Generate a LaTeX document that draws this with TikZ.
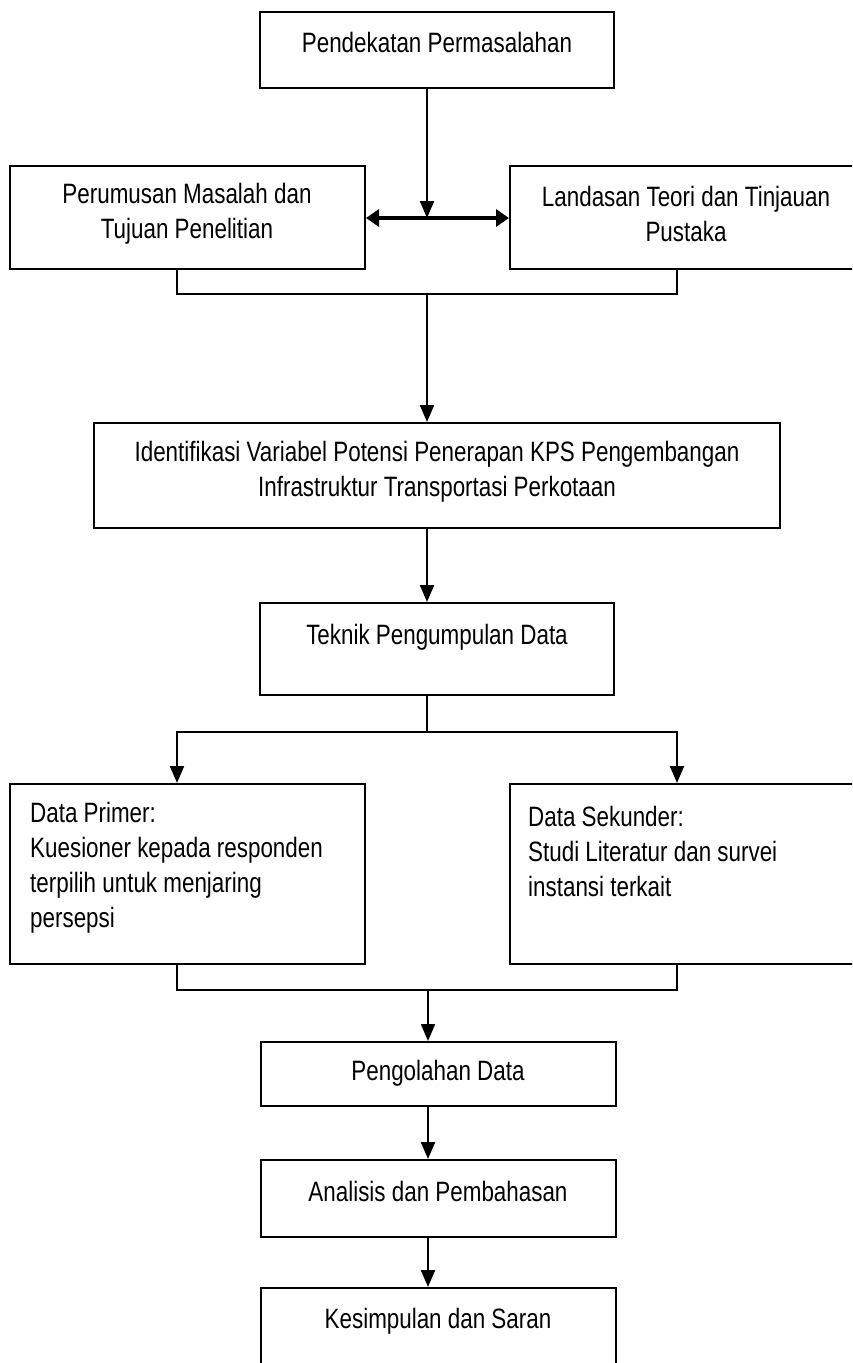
\documentclass[tikz,border=0pt]{standalone}
\usepackage{fontspec}
\setmainfont[FakeStretch=0.8]{Liberation Sans}
\usetikzlibrary{arrows.meta}

\tikzset{
  box/.style={draw, line width=2pt, inner sep=0pt},
  txt/.style={inner sep=0pt, font=\fontsize{28pt}{35pt}\selectfont},
  link/.style={line width=2pt},
  arr/.style={line width=2.2pt, -{Triangle[length=17pt,width=14pt]}}
}

\begin{document}
\begin{tikzpicture}[x=1pt,y=-1pt]
        \useasboundingbox (0,0) rectangle (852,1363);
        \clip (0,0) rectangle (852,1363);

        % Draw the boxes
        \node[box, minimum width=354pt, minimum height=76pt] (appr) at (437,50) {};
        \node[box, minimum width=355pt, minimum height=103pt] (perm) at (187.5,217.5) {};
        \node[box, minimum width=352pt, minimum height=103pt] (land) at (686,217.5) {};
        \node[box, minimum width=686pt, minimum height=105pt] (ident) at (437,475.5) {};
        \node[box, minimum width=354pt, minimum height=92pt] (tekn) at (437,649) {};
        \node[box, minimum width=355pt, minimum height=180pt] (prim) at (187.5,874) {};
        \node[box, minimum width=352pt, minimum height=180pt] (seku) at (686,874) {};
        \node[box, minimum width=355pt, minimum height=64pt] (olah) at (438.5,1074) {};
        \node[box, minimum width=355pt, minimum height=77pt] (anal) at (438.5,1198.5) {};
        \node[box, minimum width=355pt, minimum height=100pt] (simp) at (438.5,1338) {};

        % Label the boxes
        \node[txt] (apprT) at (437,42) {Pendekatan Permasalahan};
        \node[txt, align=center] (permT) at (187,214) {Perumusan Masalah dan\\Tujuan Penelitian};
        \node[txt, align=center] (landT) at (686,214) {Landasan Teori dan Tinjauan\\Pustaka};
        \node[txt, align=center] (identT) at (437,472) {Identifikasi Variabel Potensi Penerapan KPS Pengembangan\\Infrastruktur Transportasi Perkotaan};
        \node[txt] (teknT) at (437,637) {Teknik Pengumpulan Data};
        \node[txt, align=left, anchor=west] (primT) at (30,868) {Data Primer:\\Kuesioner kepada responden\\terpilih untuk menjaring\\persepsi};
        \node[txt, align=left, anchor=west] (sekuT) at (528,851) {Data Sekunder:\\Studi Literatur dan survei\\instansi terkait};
        \node[txt] (olahT) at (438,1073) {Pengolahan Data};
        \node[txt] (analT) at (438,1191) {Analisis dan Pembahasan};
        \node[txt] (simpT) at (438,1321) {Kesimpulan dan Saran};

        % Define joints
        \coordinate (jA) at (427,218);
        \coordinate (b1L) at (177,294);
        \coordinate (b1R) at (677,294);
        \coordinate (b2) at (427,732);
        \coordinate (b2L) at (177,732);
        \coordinate (b2R) at (677,732);
        \coordinate (b3L) at (177,990);
        \coordinate (b3R) at (677,990);
        \coordinate (jB) at (428,990);

        % Draw the connectors
        \draw[line width=3.5pt, {Triangle[length=13pt,width=17pt]}-{Triangle[length=13pt,width=17pt]}] (perm.east |- jA) -- (land.west |- jA);
        \draw[arr] (appr.south -| jA) -- (jA);
        \draw[link] (perm.south -| b1L) -- (b1L) -- (b1R) -- (land.south -| b1R);
        \draw[arr] (b1L -| jA) -- (ident.north -| jA);
        \draw[arr] (ident.south -| jA) -- (tekn.north -| jA);
        \draw[link] (tekn.south -| b2) -- (b2);
        \draw[arr] (b2) -- (b2L) -- (prim.north -| b2L);
        \draw[arr] (b2) -- (b2R) -- (seku.north -| b2R);
        \draw[link] (prim.south -| b3L) -- (b3L) -- (b3R) -- (seku.south -| b3R);
        \draw[arr] (jB) -- (olah.north -| jB);
        \draw[arr] (olah.south -| jB) -- (anal.north -| jB);
        \draw[arr] (anal.south -| jB) -- (simp.north -| jB);

\end{tikzpicture}
\end{document}
